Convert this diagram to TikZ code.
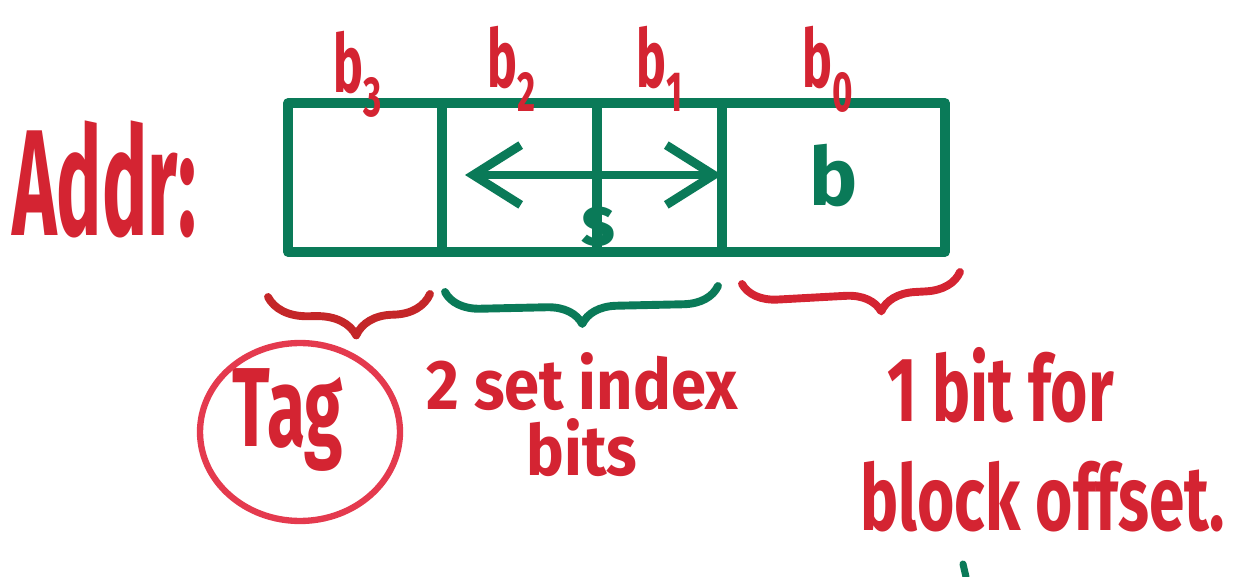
\documentclass[tikz,border=0pt]{standalone}
\usepackage{fontspec}
\setmainfont{Fira Sans}
\newfontfamily\tallhand[FakeStretch=0.5]{Fira Sans}
\newfontfamily\narrowhand[FakeStretch=0.62]{Fira Sans}
\newfontfamily\midhand[FakeStretch=0.7]{Fira Sans}
\newfontfamily\widehand[FakeStretch=0.9]{Fira Sans}
\usetikzlibrary{arrows.meta,decorations.pathreplacing}

\definecolor{inkgreen}{RGB}{10,122,88}
\definecolor{inkred}{RGB}{212,36,50}
\definecolor{inkdark}{RGB}{196,38,40}
\definecolor{inkpink}{RGB}{228,58,78}

\tikzset{
  cell/.style={draw=inkgreen, line width=5.5pt, minimum height=2.98cm,
    inner sep=0pt, outer sep=0pt},
  redtext/.style={text=inkred, inner sep=0pt},
  greentext/.style={text=inkgreen, inner sep=0pt},
  brace/.style={decorate, decoration={brace, mirror, amplitude=#1},
    line width=4.5pt, line cap=round},
  barb/.tip={Straight Barb[length=27pt,width=34pt]},
}

\begin{document}
\begin{tikzpicture}[x=0.02cm, y=-0.02cm, line cap=round, line join=round]
  \useasboundingbox (0,0) rectangle (1244,577);

  \newcommand\Ht{177.5}

  %% address cells
  \node[cell, minimum width=154*0.02cm] (tagcell) at (365,\Ht) {};
  \node[cell, minimum width=155*0.02cm] (idxhi)   at (519.5,\Ht) {};
  \node[cell, minimum width=125*0.02cm] (idxlo)   at (659.5,\Ht) {};
  \node[cell, minimum width=223*0.02cm] (offcell) at (833.5,\Ht) {};

  %% bit names
  \node[redtext, anchor=base, font=\narrowhand\bfseries\fontsize{46}{50}\selectfont] (bthree) at (358,93) {b\textsubscript{3}};
  \node[redtext, anchor=base, font=\narrowhand\bfseries\fontsize{46}{50}\selectfont] (btwo)   at (512,88) {b\textsubscript{2}};
  \node[redtext, anchor=base, font=\narrowhand\bfseries\fontsize{46}{50}\selectfont] (bone)   at (660,88) {b\textsubscript{1}};
  \node[redtext, anchor=base, font=\narrowhand\bfseries\fontsize{46}{50}\selectfont] (bzero)  at (828,88) {b\textsubscript{0}};

  \node[redtext, anchor=base west, font=\tallhand\bfseries\fontsize{86}{90}\selectfont] (addr) at (12,236) {Addr:};

  %% set index span
  \coordinate (sleft) at (465,175);
  \draw[inkgreen, line width=5pt, barb-barb] (sleft) -- (idxlo.east |- sleft);
  \node[greentext, anchor=base, font=\bfseries\fontsize{40}{44}\selectfont] (sname) at (598,246) {s};
  \node[greentext, font=\bfseries\fontsize{46}{50}\selectfont] (bname) at (834,176) {b};

  %% braces
  \draw[inkdark, brace={0.8cm}, decoration={aspect=0.54}] (268,297) -- (430,294);
  \draw[inkgreen, brace={0.7cm}, decoration={aspect=0.5}] (445,292) -- (718,286);
  \draw[inkred, brace={0.7cm}, decoration={aspect=0.63}] (742,284) -- (960,272);

  %% field names
  \node[redtext, anchor=base, font=\narrowhand\bfseries\fontsize{64}{68}\selectfont] (tag) at (288,446) {Tag};
  \draw[inkpink, line width=3.6pt] (300,432) ellipse [x radius=2cm, y radius=1.78cm];

  \node[redtext, anchor=base, align=center, font=\widehand\bfseries\fontsize{40}{37}\selectfont] (idxtext) at (582,475) {2 set index\\bits};

  \node[redtext, anchor=base west, align=left, font=\midhand\bfseries\fontsize{52}{62}\selectfont] (offtext) at (860,530) {\hspace{0.3em}1 bit for\\block offset.};

  \draw[inkgreen, line width=4pt] (963,564) -- (966,577);
\end{tikzpicture}
\end{document}
